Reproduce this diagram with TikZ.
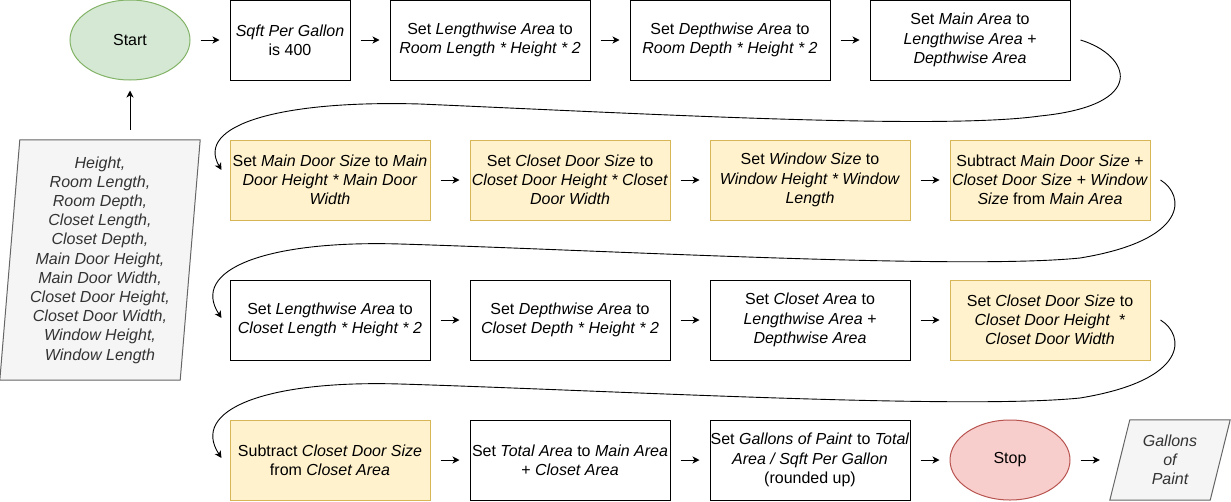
\documentclass[tikz,border=0pt]{standalone}
\usepackage{fontspec}
\setmainfont{Liberation Sans}
\usetikzlibrary{shapes.geometric,arrows.meta,backgrounds}
\definecolor{gfill}{HTML}{D5E8D4}
\definecolor{gline}{HTML}{82B366}
\definecolor{yfill}{HTML}{FFF2CC}
\definecolor{yline}{HTML}{D6B656}
\definecolor{rfill}{HTML}{F8CECC}
\definecolor{rline}{HTML}{B85450}
\definecolor{pfill}{HTML}{F5F5F5}
\definecolor{pline}{HTML}{666666}
\definecolor{ptext}{HTML}{333333}
\begin{document}
\begin{tikzpicture}[x=1pt,y=-1pt,
  font=\fontsize{16}{19.2}\selectfont,
  box/.style={draw, line width=1pt, minimum width=200pt, minimum height=80pt, align=center, inner sep=0pt, fill=white},
  ybox/.style={box, fill=yfill, draw=yline},
  term/.style={ellipse, line width=1pt, minimum width=120pt, minimum height=80pt, inner sep=0pt},
  iobox/.style={align=center, inner sep=0pt, text=ptext, font=\fontsize{16}{19.2}\selectfont\itshape},
  iofill/.style={fill=pfill, draw=pline, line width=1pt},
  arr/.style={-{Stealth[length=7pt,width=7pt,inset=2pt]}, line width=1pt, shorten <=10pt, shorten >=10pt},
  curve/.style={-{Stealth[length=7pt,width=7pt,inset=2pt]}, line width=0.9pt}]
\useasboundingbox (0,0) rectangle (1231,501);

% row 1
\node[term, fill=gfill, draw=gline] (start) at (130,40) {Start};
\node[box, minimum width=120pt] (sqft) at (290,40) {\textit{Sqft Per Gallon}\\is 400};
\node[box] (larea) at (490,40) {Set \textit{Lengthwise Area} to\\\textit{Room Length * Height * 2}};
\node[box] (darea) at (730,40) {Set \textit{Depthwise Area} to\\\textit{Room Depth * Height * 2}};
\node[box] (marea) at (970,40) {Set \textit{Main Area} to\\\textit{Lengthwise Area +}\\\textit{Depthwise Area}};

% row 2
\node[ybox] (mdoor) at (330,180) {Set \textit{Main Door Size} to \textit{Main}\\\textit{Door Height * Main Door}\\\textit{Width}};
\node[ybox] (cdoor) at (570,180) {Set \textit{Closet Door Size} to\\\textit{Closet Door Height * Closet}\\\textit{Door Width}};
\node[ybox] (win) at (810,180) {Set \textit{Window Size} to\\\textit{Window Height * Window}\\\textit{Length}};
\node[ybox] (sub1) at (1050,180) {Subtract \textit{Main Door Size +}\\\textit{Closet Door Size + Window}\\\textit{Size} from \textit{Main Area}};

% row 3
\node[box] (cl) at (330,320) {Set \textit{Lengthwise Area} to\\\textit{Closet Length * Height * 2}};
\node[box] (cd) at (570,320) {Set \textit{Depthwise Area} to\\\textit{Closet Depth * Height * 2}};
\node[box] (carea) at (810,320) {Set \textit{Closet Area} to\\\textit{Lengthwise Area +}\\\textit{Depthwise Area}};
\node[ybox] (cdoor2) at (1050,320) {Set \textit{Closet Door Size} to\\\textit{Closet Door Height\ \ *}\\\textit{Closet Door Width}};

% row 4
\node[ybox] (sub2) at (330,460) {Subtract \textit{Closet Door Size}\\from \textit{Closet Area}};
\node[box] (total) at (570,460) {Set \textit{Total Area} to \textit{Main Area}\\+ \textit{Closet Area}};
\node[box] (gal) at (810,460) {Set \textit{Gallons of Paint} to \textit{Total}\\\textit{Area / Sqft Per Gallon}\\(rounded up)};
\node[term, fill=rfill, draw=rline] (stop) at (1010,460) {Stop};

% input / output parallelograms
\node[iobox, minimum width=200pt, minimum height=240pt] (in) at (100,260) {Height,\\Room Length,\\Room Depth,\\Closet Length,\\Closet Depth,\\Main Door Height,\\Main Door Width,\\Closet Door Height,\\Closet Door Width,\\Window Height,\\Window Length};
\node[iobox, minimum width=120pt, minimum height=80pt] (out) at (1170,460) {Gallons\\of\\Paint};
\begin{scope}[on background layer]
  \draw[iofill] ([xshift=20pt]in.north west) -- (in.north east) -- ([xshift=-20pt]in.south east) -- (in.south west) -- cycle;
  \draw[iofill] ([xshift=20pt]out.north west) -- (out.north east) -- ([xshift=-20pt]out.south east) -- (out.south west) -- cycle;
\end{scope}

% straight connectors
\draw[arr] (start.south |- in.north) -- (start.south);
\draw[arr] (start) -- (sqft);
\draw[arr] (sqft) -- (larea);
\draw[arr] (larea) -- (darea);
\draw[arr] (darea) -- (marea);
\draw[arr] (mdoor) -- (cdoor);
\draw[arr] (cdoor) -- (win);
\draw[arr] (win) -- (sub1);
\draw[arr] (cl) -- (cd);
\draw[arr] (cd) -- (carea);
\draw[arr] (carea) -- (cdoor2);
\draw[arr] (sub2) -- (total);
\draw[arr] (total) -- (gal);
\draw[arr] (gal) -- (stop);
\draw[arr] (stop) -- (out);

% curved connectors between rows
\draw[curve] ([xshift=10pt]marea.east) .. controls (1130,55) and (1150,105) .. (1040,116)
  .. controls (940,130) and (650,114) .. (420,104)
  .. controls (280,100) and (195,125) .. ([xshift=-8pt,yshift=10pt]mdoor.west);
\draw[curve] ([xshift=10pt]sub1.east) .. controls (1185,195) and (1190,240) .. (1080,258)
  .. controls (960,270) and (600,250) .. (400,244)
  .. controls (265,240) and (190,270) .. ([xshift=-8pt,yshift=2pt]cl.west);
\draw[curve] ([xshift=10pt]cdoor2.east) .. controls (1185,335) and (1190,380) .. (1080,398)
  .. controls (960,410) and (600,390) .. (400,384)
  .. controls (265,380) and (190,410) .. ([xshift=-8pt,yshift=2pt]sub2.west);
\end{tikzpicture}
\end{document}
